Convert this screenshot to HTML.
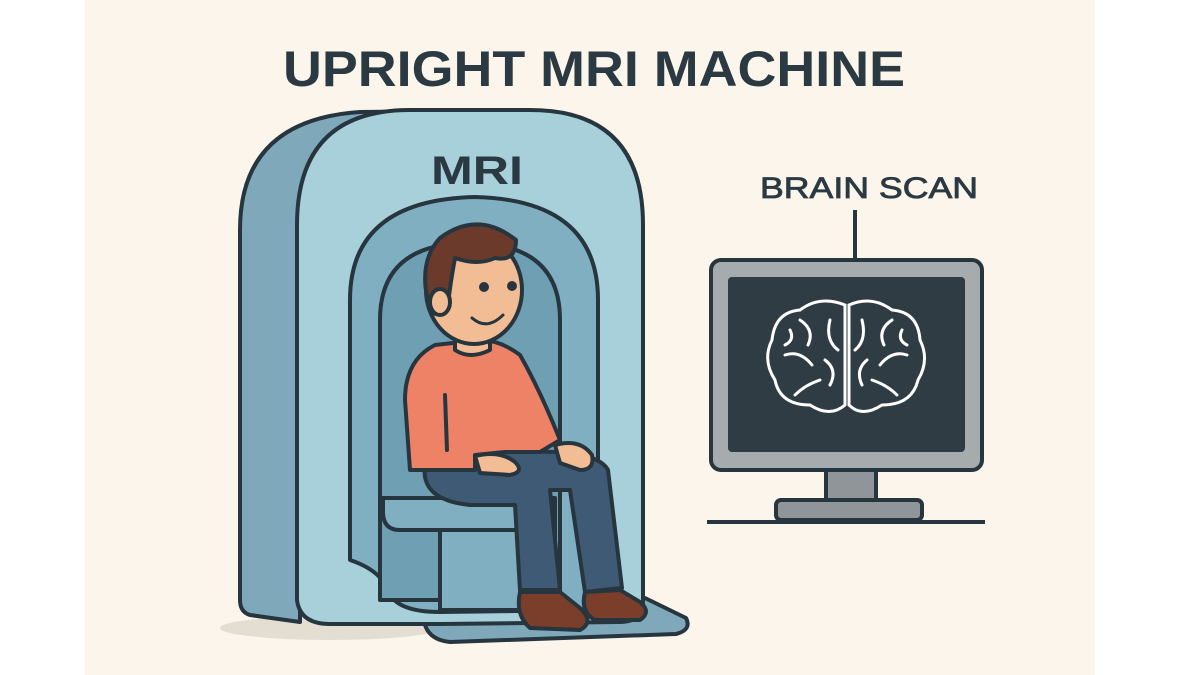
<!DOCTYPE html>
<html><head><meta charset="utf-8"><style>
html,body{margin:0;padding:0;background:#fff;width:1200px;height:675px;overflow:hidden}
svg{display:block}
text{font-family:"Liberation Sans",sans-serif;fill:#2b3a42;font-weight:bold}
</style></head><body>
<svg width="1200" height="675" viewBox="0 0 1200 675" xmlns="http://www.w3.org/2000/svg">
<rect x="0" y="0" width="1200" height="675" fill="#fff"/>
<rect x="85" y="0" width="1010" height="675" fill="#fbf5eb"/>
<text x="594" y="86" text-anchor="middle" font-size="50" textLength="622" lengthAdjust="spacingAndGlyphs">UPRIGHT MRI MACHINE</text>
<ellipse cx="330" cy="628" rx="110" ry="12" fill="#e3ddd2"/>
<g stroke="#27363e" stroke-width="4" stroke-linejoin="round">
<path d="M300 622 L250 615 Q240 612 240 600 L240 230 Q240 120 360 112 L520 110 L520 160 L300 300 Z" fill="#7fa9bb"/>
<path d="M425 600 L645 598 L686 618 Q692 630 676 634 L450 642 Q430 640 425 625 Z" fill="#7fa9bb"/>
<path d="M297 600 L297 225 Q297 110 410 110 L530 110 Q643 110 643 225 L643 600 Q643 622 620 622 L440 624 L330 624 Q300 624 297 600 Z" fill="#a8d0da"/>
<path d="M350 560 L350 300 Q350 200 475 197 Q598 200 598 300 L598 610 L440 612 Q395 612 388 590 Q380 570 350 560 Z" fill="#80afc1"/>
<path d="M380 600 L380 320 Q380 243 470 243 Q560 243 560 320 L560 600 Z" fill="#6e9fb3"/>
<path d="M383 498 L555 498 L555 610 L440 610 L440 530 L400 530 Q383 530 383 512 Z" fill="#80afc1"/>
<line x1="440" y1="530" x2="555" y2="530"/>
</g>
<text x="477" y="184" text-anchor="middle" font-size="40" textLength="92" lengthAdjust="spacingAndGlyphs">MRI</text>
<g stroke="#27363e" stroke-width="4" stroke-linejoin="round" stroke-linecap="round">
<path d="M425 465 Q420 500 470 505 L515 505 L520 590 L560 590 L550 490 L570 490 L585 592 L622 588 L608 470 Q600 455 560 452 L440 450 Z" fill="#3e5a75"/>
<path d="M520 592 Q515 615 530 628 L580 630 Q595 622 580 608 L560 592 Z" fill="#7a3e2a"/>
<path d="M585 592 Q580 612 595 620 L640 620 Q652 612 640 602 L620 590 Z" fill="#7a3e2a"/>
<path d="M435 345 Q405 360 405 400 L410 470 L475 470 L475 455 L505 452 L540 452 L560 440 Q540 390 520 355 Q500 340 480 340 Z" fill="#ee8266"/>
<line x1="445" y1="395" x2="447" y2="450"/>
<path d="M475 456 Q500 450 515 462 Q525 472 510 475 L480 473 Z" fill="#f2bc95"/>
<path d="M555 445 Q580 438 592 455 Q595 470 580 470 L560 463 Z" fill="#f2bc95"/>
<path d="M455 330 L455 350 Q470 360 490 350 L490 328 Z" fill="#f2bc95"/>
<ellipse cx="474" cy="290" rx="48" ry="54" fill="#f2bc95"/>
<path d="M432 315 Q415 265 440 238 Q478 210 516 240 Q516 262 495 258 Q478 266 455 258 Q450 285 448 305 Z" fill="#6b3a2b"/>
<ellipse cx="440" cy="302" rx="10" ry="13" fill="#f2bc95"/>
<path d="M472 318 Q487 331 503 315" fill="none" stroke-width="3"/>
</g>
<circle cx="484" cy="287" r="5" fill="#27363e"/>
<circle cx="512" cy="286" r="5" fill="#27363e"/>
<line x1="855" y1="210" x2="855" y2="262" stroke="#27363e" stroke-width="4"/>
<text x="869" y="198" text-anchor="middle" font-size="30" style="font-weight:normal;stroke:#2b3a42;stroke-width:0.8" textLength="218" lengthAdjust="spacingAndGlyphs">BRAIN SCAN</text>
<g stroke="#27363e" stroke-width="4">
<rect x="826" y="470" width="50" height="33" fill="#8f9598"/>
<rect x="776" y="500" width="146" height="20" rx="5" fill="#8f9598"/>
<line x1="707" y1="522" x2="985" y2="522"/>
<rect x="711" y="260" width="271" height="210" rx="10" fill="#a6abad"/>
</g>
<rect x="728" y="277" width="237" height="175" rx="4" fill="#2f3c44"/>
<g fill="none" stroke="#fff" stroke-width="3" stroke-linecap="round">
<path d="M845 305 Q820 295 800 310 Q775 312 772 340 Q762 360 775 380 Q780 405 810 405 Q830 418 845 405 Z"/>
<path d="M849 305 Q872 295 892 310 Q918 312 920 340 Q930 360 918 380 Q912 405 882 405 Q862 418 849 405 Z"/>
<path d="M800 320 Q815 330 808 345 M785 355 Q800 350 812 365 M820 380 Q805 385 795 395 M830 320 Q825 340 838 350 M825 360 Q838 370 830 385 M790 330 Q795 340 785 345"/>
<path d="M892 320 Q877 330 884 345 M907 355 Q892 350 880 365 M872 380 Q887 385 897 395 M862 320 Q867 340 855 350 M867 360 Q855 370 862 385 M902 330 Q897 340 907 345"/>
</g>
</svg>
</body></html>
